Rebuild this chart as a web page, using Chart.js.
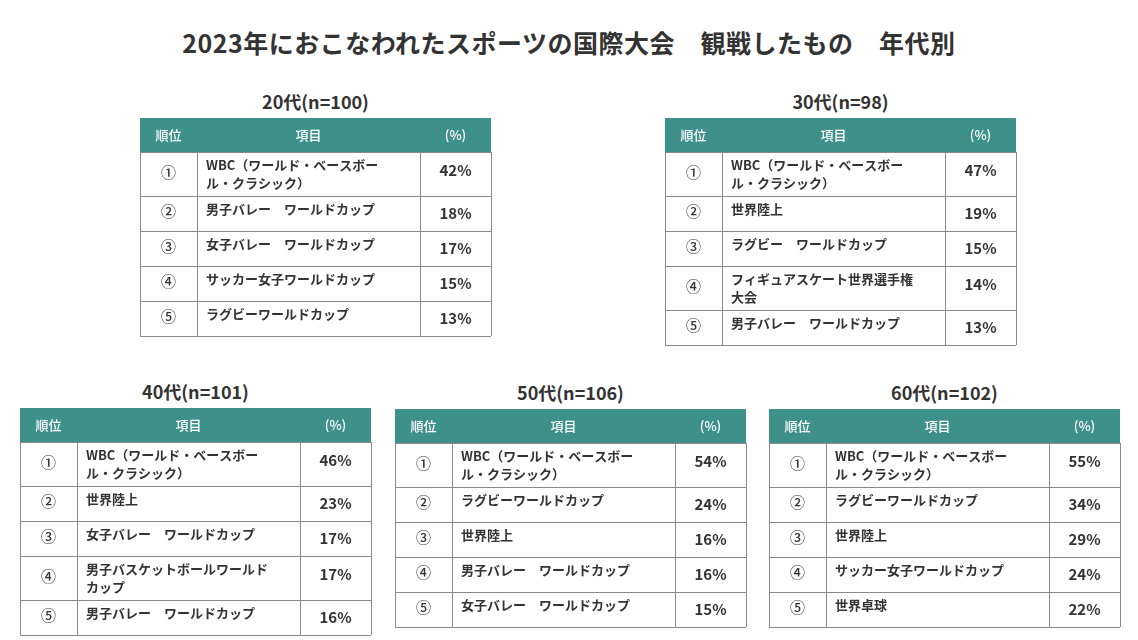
<!DOCTYPE html>
<html>
<head>
<meta charset="utf-8">
<script src="https://cdn.jsdelivr.net/npm/chart.js@4"></script>
<style>
  body { margin: 0; width: 1138px; height: 640px; background: #fff; position: relative; overflow: hidden;
         font-family: "Noto Sans CJK JP", "Noto Sans", sans-serif; color: #333; }
  h1 { position: absolute; top: 24px; left: 0; width: 1138px; margin: 0; text-align: center;
       font-size: 25px; font-weight: 700; color: #333; letter-spacing: 0.5px; }
  .sub { position: absolute; font-size: 18px; font-weight: 700; text-align: center; color: #333; }
  canvas { position: absolute; }
</style>
</head>
<body>
<h1>2023年におこなわれたスポーツの国際大会　観戦したもの　年代別</h1>

<script>
// Data
const headers = ['順位', '項目', '(%)'];
const ranks = ['①', '②', '③', '④', '⑤'];
const groupTitles = ['20代(n=100)', '30代(n=98)', '40代(n=101)', '50代(n=106)', '60代(n=102)'];
const items20 = ['WBC（ワールド・ベースボー\nル・クラシック）', '男子バレー　ワールドカップ', '女子バレー　ワールドカップ', 'サッカー女子ワールドカップ', 'ラグビーワールドカップ'];
const values20 = [42, 18, 17, 15, 13];
const items30 = ['WBC（ワールド・ベースボー\nル・クラシック）', '世界陸上', 'ラグビー　ワールドカップ', 'フィギュアスケート世界選手権\n大会', '男子バレー　ワールドカップ'];
const values30 = [47, 19, 15, 14, 13];
const items40 = ['WBC（ワールド・ベースボー\nル・クラシック）', '世界陸上', '女子バレー　ワールドカップ', '男子バスケットボールワールド\nカップ', '男子バレー　ワールドカップ'];
const values40 = [46, 23, 17, 17, 16];
const items50 = ['WBC（ワールド・ベースボー\nル・クラシック）', 'ラグビーワールドカップ', '世界陸上', '男子バレー　ワールドカップ', '女子バレー　ワールドカップ'];
const values50 = [54, 24, 16, 16, 15];
const items60 = ['WBC（ワールド・ベースボー\nル・クラシック）', 'ラグビーワールドカップ', '世界陸上', 'サッカー女子ワールドカップ', '世界卓球'];
const values60 = [55, 34, 29, 24, 22];

// Layout (positions only)
const layouts = [
  { x: 140, y: 118, titleY: 88 },
  { x: 665, y: 118, titleY: 88 },
  { x: 20, y: 408, titleY: 378 },
  { x: 395, y: 409, titleY: 379 },
  { x: 769, y: 409, titleY: 379 }
];
const colW = [57, 223, 71];
const headH = 34, lineH1 = 35, lineH2 = 44;
const teal = '#3d918a';

const tablePlugin = {
  id: 'table',
  afterDraw(chart) {
    const { ctx, scales: { x, y } } = chart;
    const t = chart.options.plugins.table;
    const cols = [0];
    colW.forEach(w => cols.push(cols[cols.length - 1] + w));
    const rowsY = [0, headH];
    t.items.forEach(it => rowsY.push(rowsY[rowsY.length - 1] + (it.includes('\n') ? lineH2 : lineH1)));
    const px = v => x.getPixelForValue(v), py = v => y.getPixelForValue(v);
    ctx.save();
    // header
    ctx.fillStyle = teal;
    ctx.fillRect(px(0), py(0), px(cols[3]) - px(0), py(headH) - py(0));
    ctx.fillStyle = '#fff';
    ctx.font = '500 13px "Noto Sans CJK JP"';
    ctx.textAlign = 'center';
    ctx.textBaseline = 'middle';
    headers.forEach((h, i) => ctx.fillText(h, (px(cols[i]) + px(cols[i + 1])) / 2, py(headH / 2)));
    // body
    t.items.forEach((it, r) => {
      const top = py(rowsY[r + 1]), bot = py(rowsY[r + 2]), mid = (top + bot) / 2;
      ctx.fillStyle = '#333';
      ctx.textAlign = 'center';
      ctx.font = '500 15px "Noto Sans CJK JP"';
      ctx.fillText(ranks[r], (px(cols[0]) + px(cols[1])) / 2, mid - 2);
      ctx.font = 'bold 15px "Noto Sans CJK JP"';
      ctx.fillText(t.values[r] + '%', (px(cols[2]) + px(cols[3])) / 2, mid - (it.includes('\n') ? 4 : 0));
      ctx.textAlign = 'left';
      ctx.font = 'bold 13px "Noto Sans CJK JP"';
      const lines = it.split('\n');
      lines.forEach((ln, k) => ctx.fillText(ln, px(cols[1]) + 9, top + 13 + k * 18));
    });
    // grid
    ctx.strokeStyle = '#8a8a8a';
    ctx.lineWidth = 1;
    ctx.beginPath();
    rowsY.slice(1).forEach(v => { ctx.moveTo(px(0), py(v) + 0.5); ctx.lineTo(px(cols[3]), py(v) + 0.5); });
    cols.forEach(c => { ctx.moveTo(px(c) + 0.5, py(headH)); ctx.lineTo(px(c) + 0.5, py(rowsY[rowsY.length - 1])); });
    ctx.stroke();
    ctx.restore();
  }
};

const allItems = [items20, items30, items40, items50, items60];
const allValues = [values20, values30, values40, values50, values60];

allItems.forEach((items, i) => {
  const L = layouts[i];
  const w = colW.reduce((a, b) => a + b, 0);
  const h = headH + items.reduce((a, it) => a + (it.includes('\n') ? lineH2 : lineH1), 0);
  const title = document.createElement('div');
  title.className = 'sub';
  title.textContent = groupTitles[i];
  title.style.left = L.x + 'px';
  title.style.top = L.titleY + 'px';
  title.style.width = w + 'px';
  document.body.appendChild(title);
  const cv = document.createElement('canvas');
  cv.width = w + 1; cv.height = h + 1;
  cv.style.left = L.x + 'px'; cv.style.top = L.y + 'px';
  cv.style.width = (w + 1) + 'px'; cv.style.height = (h + 1) + 'px';
  document.body.appendChild(cv);
  new Chart(cv, {
    type: 'scatter',
    data: { datasets: [{ data: [] }] },
    options: {
      responsive: false, animation: false, devicePixelRatio: 1,
      layout: { padding: 0 },
      scales: {
        x: { type: 'linear', display: false, min: 0, max: w + 1 },
        y: { type: 'linear', display: false, min: 0, max: h + 1, reverse: true }
      },
      plugins: { legend: { display: false }, tooltip: { enabled: false },
                 table: { items, values: allValues[i] } }
    },
    plugins: [tablePlugin]
  });
});
</script>
</body>
</html>
